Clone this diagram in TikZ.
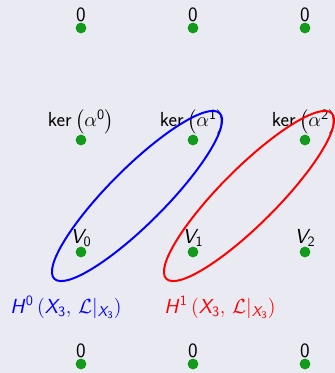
\documentclass[tikz,border=0pt]{standalone}
\usepackage{amsmath}
\usepackage{amssymb}
\usepackage{type1cm}
\usetikzlibrary{positioning}
\usepackage{xcolor}
\DeclareMathAlphabet{\mathsfit}{OT1}{cmss}{m}{sl}
\definecolor{dotgreen}{RGB}{18,154,28}
\definecolor{bgcol}{RGB}{234,234,242}

\begin{document}
\begin{tikzpicture}[
  dot/.style={circle, fill=dotgreen, inner sep=0pt, minimum size=0.29cm},
  lbl/.style={inner sep=0pt, font=\fontsize{15.5}{18.6}\selectfont\sffamily}
]
  % Background
  \fill[bgcol] (0,0) rectangle (8.973,9.991);
  \useasboundingbox (0,0) rectangle (8.973,9.991);

  % Points with their labels
  \foreach \i in {0,1,2} {
    \node[dot] (top\i) at ({2.17+3*\i}, 9.241) {};
    \node[dot] (ker\i) at ({2.17+3*\i}, 6.241) {};
    \node[dot] (v\i)   at ({2.17+3*\i}, 3.241) {};
    \node[dot] (bot\i) at ({2.17+3*\i}, 0.241) {};
    \node[lbl, above=0pt of top\i] (top\i-l) {0};
    \node[lbl, above=0pt of ker\i] (ker\i-l) {ker\,$\left(\alpha^{\mathsf{\i}}\right)$};
    \node[lbl, above=0pt of v\i]   (v\i-l)   {$\mathsfit{V}_{\mathsf{\i}}$};
    \node[lbl, above=0pt of bot\i] (bot\i-l) {0};
  }

  % Cohomology labels
  \node[lbl, blue, anchor=base] (h0) at (1.768,1.607)
    {$\mathsfit{H}^{\mathsf{0}}\left(\mathsfit{X}_{\mathsf{3}},\,\mathcal{L}|_{\mathsfit{X}_{\mathsf{3}}}\right)$};
  \node[lbl, red, anchor=base] (h1) at (5.893,1.607)
    {$\mathsfit{H}^{\mathsf{1}}\left(\mathsfit{X}_{\mathsf{3}},\,\mathcal{L}|_{\mathsfit{X}_{\mathsf{3}}}\right)$};

  % Ellipses
  \path (v0) -- (ker1) coordinate[midway] (blue-c);
  \path (v1) -- (ker2) coordinate[midway] (red-c);
  \draw[blue, line width=1.5pt, rotate around={45:(blue-c)}] (blue-c) ellipse (3.134 and 0.75);
  \draw[red, line width=1.5pt, rotate around={45:(red-c)}] (red-c) ellipse (3.134 and 0.75);

\end{tikzpicture}
\end{document}
